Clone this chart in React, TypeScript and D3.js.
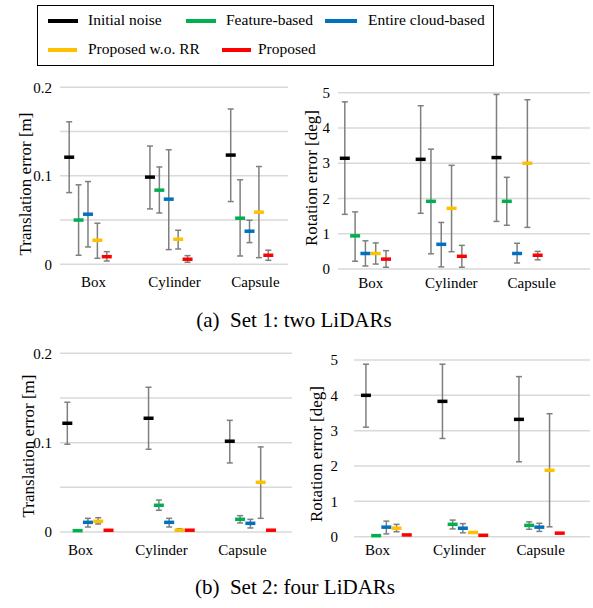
import React from "react";
import { scaleBand, scaleLinear, scalePoint } from "d3";

const categories = ["Box", "Cylinder", "Capsule"];
const seriesNames = ["Initial noise", "Feature-based", "Entire cloud-based", "Proposed w.o. RR", "Proposed"];
const seriesColors = ["#000000", "#00b050", "#0070c0", "#ffc000", "#ff0000"];

// each row = one series, values for Box, Cylinder, Capsule
const set1TransMean = [[0.121, 0.0985, 0.1234], [0.05, 0.0838, 0.0521], [0.0566, 0.0736, 0.0374], [0.0272, 0.0283, 0.0589], [0.0086, 0.0057, 0.0102]];
const set1TransHigh = [[0.161, 0.1336, 0.1755], [0.0898, 0.11, 0.0955], [0.0935, 0.1294, 0.0498], [0.0464, 0.0385, 0.1105], [0.0143, 0.0098, 0.0159]];
const set1TransLow = [[0.081, 0.0626, 0.0709], [0.0102, 0.058, 0.0094], [0.0196, 0.0166, 0.0245], [0.0068, 0.0173, 0.0075], [0.0037, 0.0023, 0.0045]];

const set1RotMean = [[3.14, 3.11, 3.16], [0.94, 1.92, 1.92], [0.44, 0.7, 0.44], [0.44, 1.72, 3.0], [0.28, 0.36, 0.39]];
const set1RotHigh = [[4.74, 4.63, 4.95], [1.62, 3.4, 2.6], [0.8, 1.32, 0.73], [0.74, 2.94, 4.8], [0.52, 0.67, 0.5]];
const set1RotLow = [[1.55, 1.58, 1.35], [0.22, 0.43, 1.24], [0.085, 0.06, 0.17], [0.14, 0.49, 1.18], [0.05, 0.05, 0.26]];

const set2TransMean = [[0.1217, 0.1273, 0.1016], [0.0015, 0.0299, 0.0142], [0.0108, 0.0108, 0.0097], [0.012, 0.002, 0.0556], [0.0019, 0.002, 0.002]];
const set2TransHigh = [[0.1452, 0.162, 0.125], [0.0015, 0.0358, 0.0183], [0.0153, 0.0153, 0.0142], [0.016, 0.0037, 0.0952], [0.0019, 0.002, 0.002]];
const set2TransLow = [[0.0982, 0.0926, 0.0773], [0.0015, 0.0243, 0.0101], [0.0056, 0.0056, 0.0045], [0.009, 0.001, 0.0153], [0.0019, 0.002, 0.002]];

const set2RotMean = [[4.0, 3.83, 3.32], [0.03, 0.35, 0.32], [0.27, 0.24, 0.27], [0.24, 0.12, 1.88], [0.05, 0.04, 0.1]];
const set2RotHigh = [[4.88, 4.88, 4.53], [0.03, 0.47, 0.42], [0.44, 0.37, 0.38], [0.35, 0.12, 3.48], [0.05, 0.04, 0.1]];
const set2RotLow = [[3.1, 2.78, 2.12], [0.03, 0.22, 0.21], [0.08, 0.11, 0.15], [0.14, 0.12, 0.28], [0.05, 0.04, 0.1]];

const transTicks = [0, 0.1, 0.2];
const transGrid = [0, 0.05, 0.1, 0.15, 0.2];
const rotTicks = [0, 1, 2, 3, 4, 5];

const FONT = "'Liberation Serif', 'Times New Roman', serif";
const GRID = "#d9d9d9";
const BAR = "#7f7f7f";

type PanelProps = {
  mean: number[][];
  high: number[][];
  low: number[][];
  yMax: number;
  ticks: number[];
  grid: number[];
  fmt: (v: number) => string;
  title: string;
  titleX: number;
  titleY: number;
  yRange: [number, number];
  gridX: [number, number];
  tickX: number;
  labelRange: [number, number];
  labelY: number;
  groupRange: [number, number];
  inner: number;
};

const Panel = (p: PanelProps) => {
  const y = scaleLinear().domain([0, p.yMax]).range(p.yRange);
  const xLabel = scaleBand().domain(categories).range(p.labelRange);
  const xGroup = scaleBand().domain(categories).range(p.groupRange);
  const xInner = scalePoint().domain(seriesNames).range([-p.inner, p.inner]);
  const cap = 3;
  const half = 5;

  return (
    <g>
      {p.grid.map((g) => (
        <line key={g} x1={p.gridX[0]} x2={p.gridX[1]} y1={y(g)} y2={y(g)} stroke={GRID} strokeWidth={1.5} />
      ))}
      {p.ticks.map((t) => (
        <text key={t} x={p.tickX} y={y(t)} dy="0.35em" textAnchor="end" fontSize={15}>
          {p.fmt(t)}
        </text>
      ))}
      <text
        transform={`translate(${p.titleX},${p.titleY}) rotate(-90)`}
        textAnchor="middle"
        dy="0.35em"
        fontSize={17}
      >
        {p.title}
      </text>
      {categories.map((c) => (
        <text key={c} x={xLabel(c)! + xLabel.bandwidth() / 2} y={p.labelY} dy="0.35em" textAnchor="middle" fontSize={15}>
          {c}
        </text>
      ))}
      {seriesNames.map((s, si) =>
        categories.map((c, ci) => {
          const cx = xGroup(c)! + xGroup.bandwidth() / 2 + xInner(s)!;
          const hi = y(p.high[si][ci]);
          const lo = y(p.low[si][ci]);
          const m = y(p.mean[si][ci]);
          const showBar = lo - hi > 1;
          return (
            <g key={s + c}>
              {showBar && (
                <g stroke={BAR} strokeWidth={1.5}>
                  <line x1={cx} x2={cx} y1={hi} y2={lo} />
                  <line x1={cx - cap} x2={cx + cap} y1={hi} y2={hi} />
                  <line x1={cx - cap} x2={cx + cap} y1={lo} y2={lo} />
                </g>
              )}
              <line x1={cx - half} x2={cx + half} y1={m} y2={m} stroke={seriesColors[si]} strokeWidth={3.5} />
            </g>
          );
        })
      )}
    </g>
  );
};

const legendItems = [
  { x0: 48, x1: 78, tx: 88, y: 21 },
  { x0: 186, x1: 216, tx: 226, y: 21 },
  { x0: 325, x1: 357, tx: 368, y: 21 },
  { x0: 48, x1: 77, tx: 88, y: 50 },
  { x0: 222, x1: 251, tx: 258, y: 50 },
];

const fmtTrans = (v: number) => (v === 0 ? "0" : String(v));
const fmtRot = (v: number) => String(v);

export default function App() {
  return (
    <svg
      width={593}
      height={608}
      style={{ position: "absolute", left: 0, top: 0, background: "#fff" }}
      fontFamily={FONT}
    >
      <rect x={37.5} y={5.5} width={456} height={60} fill="#fff" stroke="#000" strokeWidth={1} />
      {seriesNames.map((s, i) => {
        const l = legendItems[i];
        return (
          <g key={s}>
            <line x1={l.x0} x2={l.x1} y1={l.y} y2={l.y} stroke={seriesColors[i]} strokeWidth={4} />
            <text x={l.tx} y={l.y - 1} dy="0.35em" fontSize={15.5}>
              {s}
            </text>
          </g>
        );
      })}

      <Panel
        mean={set1TransMean}
        high={set1TransHigh}
        low={set1TransLow}
        yMax={0.2}
        ticks={transTicks}
        grid={transGrid}
        fmt={fmtTrans}
        title="Translation error [m]"
        titleX={25}
        titleY={184}
        yRange={[264.3, 87.3]}
        gridX={[60, 288]}
        tickX={52}
        labelRange={[53, 296]}
        labelY={282}
        groupRange={[47.6, 289.9]}
        inner={18.8}
      />
      <Panel
        mean={set1RotMean}
        high={set1RotHigh}
        low={set1RotLow}
        yMax={5}
        ticks={rotTicks}
        grid={rotTicks}
        fmt={fmtRot}
        title="Rotation error [deg]"
        titleX={311}
        titleY={178}
        yRange={[269, 92.7]}
        gridX={[338, 590]}
        tickX={330}
        labelRange={[330.6, 572]}
        labelY={283}
        groupRange={[327.5, 555]}
        inner={20.6}
      />
      <Panel
        mean={set2TransMean}
        high={set2TransHigh}
        low={set2TransLow}
        yMax={0.2}
        ticks={transTicks}
        grid={transGrid}
        fmt={fmtTrans}
        title="Translation error [m]"
        titleX={28}
        titleY={446}
        yRange={[532, 353.3]}
        gridX={[60, 292]}
        tickX={52}
        labelRange={[40, 283]}
        labelY={550}
        groupRange={[47.3, 291]}
        inner={20.6}
      />
      <Panel
        mean={set2RotMean}
        high={set2RotHigh}
        low={set2RotLow}
        yMax={5}
        ticks={rotTicks}
        grid={rotTicks}
        fmt={fmtRot}
        title="Rotation error [deg]"
        titleX={316}
        titleY={454}
        yRange={[536.7, 360]}
        gridX={[354, 590]}
        tickX={338}
        labelRange={[336.7, 581.6]}
        labelY={550}
        groupRange={[348.1, 577.6]}
        inner={20.4}
      />

      <text x={294} y={320} dy="0.35em" textAnchor="middle" fontSize={21} style={{ whiteSpace: "pre" }}>
        {"(a)  Set 1: two LiDARs"}
      </text>
      <text x={295} y={587} dy="0.35em" textAnchor="middle" fontSize={21} style={{ whiteSpace: "pre" }}>
        {"(b)  Set 2: four LiDARs"}
      </text>
    </svg>
  );
}
